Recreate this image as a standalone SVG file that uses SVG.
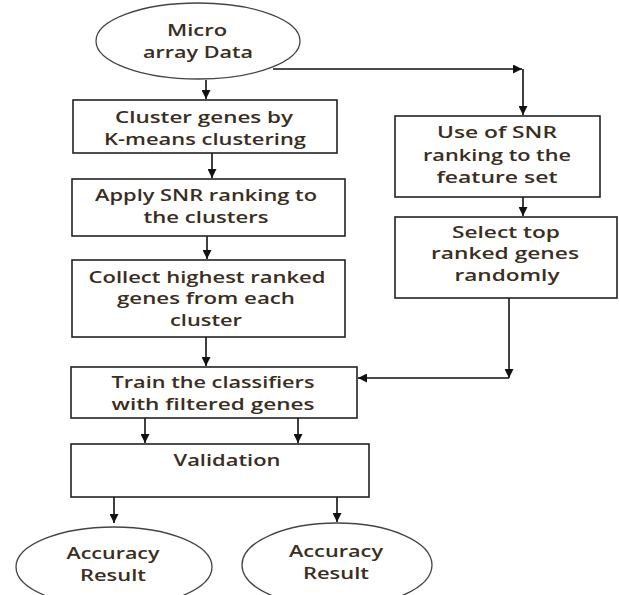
<svg xmlns="http://www.w3.org/2000/svg" width="619" height="595" viewBox="0 0 619 595">
<style>
.box{fill:#fff;stroke:#222;stroke-width:1.6}
.ell{fill:#fff;stroke:#444;stroke-width:1.3}
.t{font-family:"Open Sans","Liberation Sans",sans-serif;font-size:17px;font-weight:600;fill:#3a2e22;text-anchor:middle}
.c{stroke:#111;stroke-width:1.6;fill:none}
</style>
<defs>
<marker id="ah" viewBox="0 0 10 10" refX="10" refY="5" markerWidth="10" markerHeight="9" markerUnits="userSpaceOnUse" orient="auto">
<path d="M0,0 L10,5 L0,10 Z" fill="#111"/>
</marker>
</defs>
<rect width="619" height="595" fill="#fff"/>
<g id="connectors">
<line class="c" x1="206" y1="80" x2="206" y2="99" marker-end="url(#ah)"/>
<polyline class="c" points="273,69 522,69" marker-end="url(#ah)"/>
<line class="c" x1="523" y1="69" x2="523" y2="115" marker-end="url(#ah)"/>
<line class="c" x1="212" y1="153" x2="212" y2="178" marker-end="url(#ah)"/>
<line class="c" x1="207" y1="236" x2="207" y2="259" marker-end="url(#ah)"/>
<line class="c" x1="206" y1="337" x2="206" y2="366" marker-end="url(#ah)"/>
<line class="c" x1="523" y1="197" x2="523" y2="216" marker-end="url(#ah)"/>
<line class="c" x1="509" y1="298" x2="509" y2="378" marker-end="url(#ah)"/>
<line class="c" x1="509" y1="378" x2="358" y2="378" marker-end="url(#ah)"/>
<line class="c" x1="145" y1="418" x2="145" y2="443" marker-end="url(#ah)"/>
<line class="c" x1="298" y1="418" x2="298" y2="443" marker-end="url(#ah)"/>
<line class="c" x1="114" y1="497" x2="114" y2="523" marker-end="url(#ah)"/>
<line class="c" x1="337" y1="497" x2="337" y2="522" marker-end="url(#ah)"/>
</g>
<g id="micro">
<ellipse class="ell" cx="198" cy="41" rx="102" ry="38"/>
<text class="t" x="197" y="36" textLength="60" lengthAdjust="spacingAndGlyphs">Micro</text>
<text class="t" x="198" y="58" textLength="110" lengthAdjust="spacingAndGlyphs">array Data</text>
</g>
<g id="cluster">
<rect class="box" x="73" y="100" width="264" height="53"/>
<text class="t" x="204" y="123" textLength="178" lengthAdjust="spacingAndGlyphs">Cluster genes by</text>
<text class="t" x="205" y="145" textLength="202" lengthAdjust="spacingAndGlyphs">K-means clustering</text>
</g>
<g id="apply">
<rect class="box" x="72" y="179" width="273" height="57"/>
<text class="t" x="206" y="201" textLength="222" lengthAdjust="spacingAndGlyphs">Apply SNR ranking to</text>
<text class="t" x="206" y="223" textLength="125" lengthAdjust="spacingAndGlyphs">the clusters</text>
</g>
<g id="collect">
<rect class="box" x="72" y="260" width="273" height="77"/>
<text class="t" x="207" y="283" textLength="237" lengthAdjust="spacingAndGlyphs">Collect highest ranked</text>
<text class="t" x="206" y="304" textLength="178" lengthAdjust="spacingAndGlyphs">genes from each</text>
<text class="t" x="206" y="326" textLength="72" lengthAdjust="spacingAndGlyphs">cluster</text>
</g>
<g id="use">
<rect class="box" x="395" y="116" width="205" height="81"/>
<text class="t" x="497" y="138" textLength="120" lengthAdjust="spacingAndGlyphs">Use of SNR</text>
<text class="t" x="497" y="161" textLength="148" lengthAdjust="spacingAndGlyphs">ranking to the</text>
<text class="t" x="497" y="183" textLength="121" lengthAdjust="spacingAndGlyphs">feature set</text>
</g>
<g id="select">
<rect class="box" x="395" y="217" width="222" height="81"/>
<text class="t" x="506" y="238" textLength="108" lengthAdjust="spacingAndGlyphs">Select top</text>
<text class="t" x="505" y="259" textLength="148" lengthAdjust="spacingAndGlyphs">ranked genes</text>
<text class="t" x="507" y="281" textLength="105" lengthAdjust="spacingAndGlyphs">randomly</text>
</g>
<g id="train">
<rect class="box" x="71" y="367" width="286" height="51"/>
<text class="t" x="213" y="388" textLength="203" lengthAdjust="spacingAndGlyphs">Train the classifiers</text>
<text class="t" x="213" y="410" textLength="203" lengthAdjust="spacingAndGlyphs">with filtered genes</text>
</g>
<g id="validation">
<rect class="box" x="71" y="444" width="298" height="53"/>
<text class="t" x="227" y="466" textLength="107" lengthAdjust="spacingAndGlyphs">Validation</text>
</g>
<g id="acc1">
<ellipse class="ell" cx="114" cy="567" rx="98" ry="40"/>
<text class="t" x="113" y="559" textLength="93" lengthAdjust="spacingAndGlyphs">Accuracy</text>
<text class="t" x="113" y="581" textLength="66" lengthAdjust="spacingAndGlyphs">Result</text>
</g>
<g id="acc2">
<ellipse class="ell" cx="337" cy="565" rx="95" ry="42"/>
<text class="t" x="336" y="557" textLength="94" lengthAdjust="spacingAndGlyphs">Accuracy</text>
<text class="t" x="336" y="579" textLength="66" lengthAdjust="spacingAndGlyphs">Result</text>
</g>
</svg>
